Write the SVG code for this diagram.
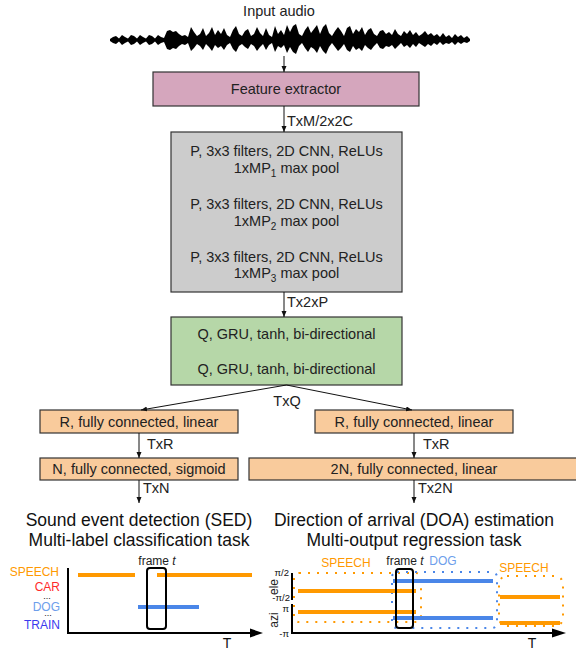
<svg xmlns="http://www.w3.org/2000/svg" width="576" height="651" viewBox="0 0 576 651">
  <style>
    text { font-family: "Liberation Sans", Arial, sans-serif; fill: #222; }
    .c { text-anchor: middle; font-size: 14.5px; }
    .l { text-anchor: start; font-size: 14.5px; }
    .title { text-anchor: middle; font-size: 17.5px; fill: #111; }
    .sm { font-size: 12px; }
    .tick { font-size: 9.5px; text-anchor: end; fill: #111; }
    .fo { fill: #ff9900; }
    .fr { fill: #ff2a2a; }
    .fb { fill: #6d9eeb; }
    .fd { fill: #3a3aee; }
    .fk { fill: #111; }
    .box { stroke: #333; stroke-width: 1.2; }
    .conn { stroke: #111; stroke-width: 1; fill: none; marker-end: url(#arrow); }
    .axis { stroke: #000; stroke-width: 2; fill: none; }
    .bar { stroke-width: 4; fill: none; }
    .orange { stroke: #ff9900; }
    .blue { stroke: #4a86e8; }
    .dotted { fill: none; stroke-width: 2; stroke-dasharray: 2 7; }
    .frame { fill: none; stroke: #000; stroke-width: 2; }
  </style>
  <defs>
    <marker id="arrow" markerUnits="userSpaceOnUse" markerWidth="7" markerHeight="6" refX="6" refY="2.5" orient="auto">
      <path d="M0,0 L6,2.5 L0,5 z" fill="#111"/>
    </marker>
  </defs>

  <rect width="576" height="651" fill="#fff"/>

  <!-- input waveform -->
  <g id="input">
    <text class="c" x="279" y="16">Input audio</text>
    <path fill="#000" d="M110,39 L113,37 116,36 119,38.5 122,35 125,37 128,38.5 131,35 134,36 137,38.5 140,35 143,37 146,38.5 149,35 152,36 155,38.5 158,35 161,37 164,38 167,31 170,30 173,32 176,31 179,34 182,36 185,35 188,37 191,27 194,32 197,36 200,34 203,28 206,36 209,33 212,27 215,35 218,30 221,34 224,28 227,35 230,37 233,30 236,26 239,34 242,36 245,31 248,29 251,36 254,34 257,27 260,33 263,36 266,28 269,35 272,37 275,26 278,34 281,30 284,35 287,25 290,32 293,26 296,24 299,34 302,36 305,30 308,26 311,33 314,29 317,25 320,34 323,27 326,24 329,33 332,36 335,31 338,27 341,31 344,36 347,28 350,26 353,34 356,29 359,32 362,27 365,35 368,30 371,28 374,34 377,36 380,31 383,30 386,34 389,32 392,35 395,29 398,34 401,36 404,31 407,34 410,30 413,35 416,32 419,36 422,34 425,31 428,35 431,33 434,36 437,34 440,37 443,33 446,37 449,35 452,38 455,34 458,37 461,35 464,38 467,36 470,39 L470,41 467,43 464,42 461,44 458,42 455,45 452,42 449,44 446,43 443,45 440,42 437,45 434,43 431,46 428,44 425,47 422,45 419,43 416,47 413,44 410,48 407,45 404,47 401,43 398,46 395,49 392,45 389,47 386,46 383,49 380,48 377,43 374,46 371,50 368,48 365,45 362,51 359,48 356,50 353,46 350,52 347,50 344,44 341,48 338,51 335,47 332,43 329,47 326,54 323,51 320,46 317,53 314,49 311,47 308,52 305,48 302,43 299,46 296,54 293,52 290,47 287,53 284,45 281,48 278,46 275,52 272,43 269,45 266,50 263,44 260,47 257,51 254,46 251,44 248,49 245,47 242,44 239,46 236,52 233,49 230,43 227,45 224,50 221,46 218,48 215,45 212,51 209,47 206,44 203,50 200,46 197,44 194,48 191,51 188,43 185,45 182,44 179,46 176,49 173,48 170,50 167,49 164,42 161,43 158,45 155,41.5 152,44 149,45 146,41.5 143,43 140,45 137,41.5 134,44 131,45 128,41.5 125,43 122,45 119,41.5 116,44 113,43 110,41 Z"/>
  </g>

  <!-- network blocks -->
  <g id="feature-extractor">
    <rect class="box" x="153" y="72" width="266" height="34" fill="#d5a6bd"/>
    <text class="c" x="286" y="94">Feature extractor</text>
  </g>

  <g id="cnn">
    <rect class="box" x="171" y="132" width="231" height="160" fill="#cccccc"/>
    <text class="c" x="286.5" y="156">P, 3x3 filters, 2D CNN, ReLUs</text>
    <text class="c" x="286.5" y="173">1xMP<tspan font-size="10" dy="4">1</tspan><tspan dy="-4"> max pool</tspan></text>
    <text class="c" x="286.5" y="209">P, 3x3 filters, 2D CNN, ReLUs</text>
    <text class="c" x="286.5" y="226">1xMP<tspan font-size="10" dy="4">2</tspan><tspan dy="-4"> max pool</tspan></text>
    <text class="c" x="286.5" y="262">P, 3x3 filters, 2D CNN, ReLUs</text>
    <text class="c" x="286.5" y="278">1xMP<tspan font-size="10" dy="4">3</tspan><tspan dy="-4"> max pool</tspan></text>
  </g>

  <g id="gru">
    <rect class="box" x="171" y="317" width="231" height="68" fill="#b6d7a8"/>
    <text class="c" x="286.5" y="339">Q, GRU, tanh, bi-directional</text>
    <text class="c" x="286.5" y="374">Q, GRU, tanh, bi-directional</text>
  </g>

  <g id="fc-sed-1">
    <rect class="box" x="40" y="410" width="198" height="23" fill="#f9cb9c"/>
    <text class="c" x="139" y="427">R, fully connected, linear</text>
  </g>
  <g id="fc-doa-1">
    <rect class="box" x="315" y="410" width="198" height="23" fill="#f9cb9c"/>
    <text class="c" x="414" y="427">R, fully connected, linear</text>
  </g>
  <g id="fc-sed-2">
    <rect class="box" x="40" y="458" width="198" height="22" fill="#f9cb9c"/>
    <text class="c" x="139" y="474">N, fully connected, sigmoid</text>
  </g>
  <g id="fc-doa-2">
    <rect class="box" x="249" y="458" width="332" height="22" fill="#f9cb9c"/>
    <text class="c" x="414" y="474">2N, fully connected, linear</text>
  </g>

  <!-- connectors and tensor shapes -->
  <g id="connectors">
    <line class="conn" x1="284" y1="56" x2="284" y2="72"/>
    <line class="conn" x1="284" y1="106" x2="284" y2="132"/>
    <text class="l" x="287" y="126">TxM/2x2C</text>
    <line class="conn" x1="284" y1="292" x2="284" y2="317"/>
    <text class="l" x="287" y="307">Tx2xP</text>
    <line class="conn" x1="286.5" y1="385" x2="141" y2="410"/>
    <line class="conn" x1="286.5" y1="385" x2="412" y2="410"/>
    <text class="c" x="287" y="406">TxQ</text>
    <line class="conn" x1="139" y1="433" x2="139" y2="458"/>
    <text class="l" x="147" y="449">TxR</text>
    <line class="conn" x1="414" y1="433" x2="414" y2="458"/>
    <text class="l" x="423" y="449">TxR</text>
    <line class="conn" x1="139" y1="480" x2="139" y2="503"/>
    <text class="l" x="143" y="493">TxN</text>
    <line class="conn" x1="414" y1="480" x2="414" y2="503"/>
    <text class="l" x="418" y="493">Tx2N</text>
  </g>

  <!-- SED output -->
  <g id="sed-output">
    <text class="title" x="139" y="526">Sound event detection (SED)</text>
    <text class="title" x="139" y="546">Multi-label classification task</text>
    <text class="sm" x="157" y="565" text-anchor="middle">frame <tspan font-style="italic">t</tspan></text>
    <text class="sm fo" x="59" y="576" text-anchor="end">SPEECH</text>
    <text class="sm fr" x="60" y="591" text-anchor="end">CAR</text>
    <text class="fk" x="47" y="599" font-size="9" text-anchor="middle">...</text>
    <text class="sm fb" x="60" y="611" text-anchor="end">DOG</text>
    <text class="fk" x="48" y="616" font-size="9" text-anchor="middle">...</text>
    <text class="sm fd" x="60" y="629" text-anchor="end">TRAIN</text>
    <line class="bar orange" x1="78" y1="575" x2="135" y2="575"/>
    <line class="bar orange" x1="157" y1="575" x2="252" y2="575"/>
    <line class="bar blue" x1="138" y1="607" x2="199" y2="607"/>
    <rect class="frame" x="147" y="568" width="19" height="61" rx="3"/>
    <path class="axis" d="M68,568 V633 H252"/>
    <path d="M250,628.5 L263,633 L250,637.5 z" fill="#000"/>
    <text class="fk" x="227" y="648" text-anchor="middle" font-size="14">T</text>
  </g>

  <!-- DOA output -->
  <g id="doa-output">
    <text class="title" x="414" y="526">Direction of arrival (DOA) estimation</text>
    <text class="title" x="414" y="546">Multi-output regression task</text>
    <text class="sm fo" x="346" y="567" text-anchor="middle">SPEECH</text>
    <text class="sm" x="405" y="565" text-anchor="middle">frame <tspan font-style="italic">t</tspan></text>
    <text class="sm fb" x="443" y="565" text-anchor="middle">DOG</text>
    <text class="sm fo" x="524" y="572" text-anchor="middle">SPEECH</text>

    <rect class="dotted orange" x="294" y="573" width="127" height="49" rx="5"/>
    <rect class="dotted blue" x="392" y="572" width="105" height="56" rx="5"/>
    <rect class="dotted orange" x="499" y="576" width="64" height="50" rx="8"/>

    <line class="bar orange" x1="298" y1="591" x2="416" y2="591"/>
    <line class="bar orange" x1="298" y1="612" x2="416" y2="612"/>
    <line class="bar blue" x1="393" y1="581" x2="493" y2="581"/>
    <line class="bar blue" x1="393" y1="618" x2="493" y2="618"/>
    <line class="bar orange" x1="500" y1="597" x2="560" y2="597"/>
    <line class="bar orange" x1="500" y1="623" x2="560" y2="623"/>
    <rect class="frame" x="396" y="569" width="17" height="59" rx="3"/>

    <path class="axis" d="M292,573 V600"/>
    <path class="axis" d="M292,604 V633 H554"/>
    <path d="M552,628.5 L566,633 L552,637.5 z" fill="#000"/>

    <text class="tick" x="289" y="576">π/2</text>
    <text class="tick" x="290" y="601">-π/2</text>
    <text class="tick" x="289" y="612">π</text>
    <text class="tick" x="289" y="637">-π</text>
    <text class="sm" font-size="12.5" text-anchor="middle" transform="translate(278,587) rotate(-90)">ele</text>
    <text class="sm" font-size="12.5" text-anchor="middle" transform="translate(278,620) rotate(-90)">azi</text>
    <text class="fk" x="532" y="648" text-anchor="middle" font-size="14">T</text>
  </g>
</svg>
